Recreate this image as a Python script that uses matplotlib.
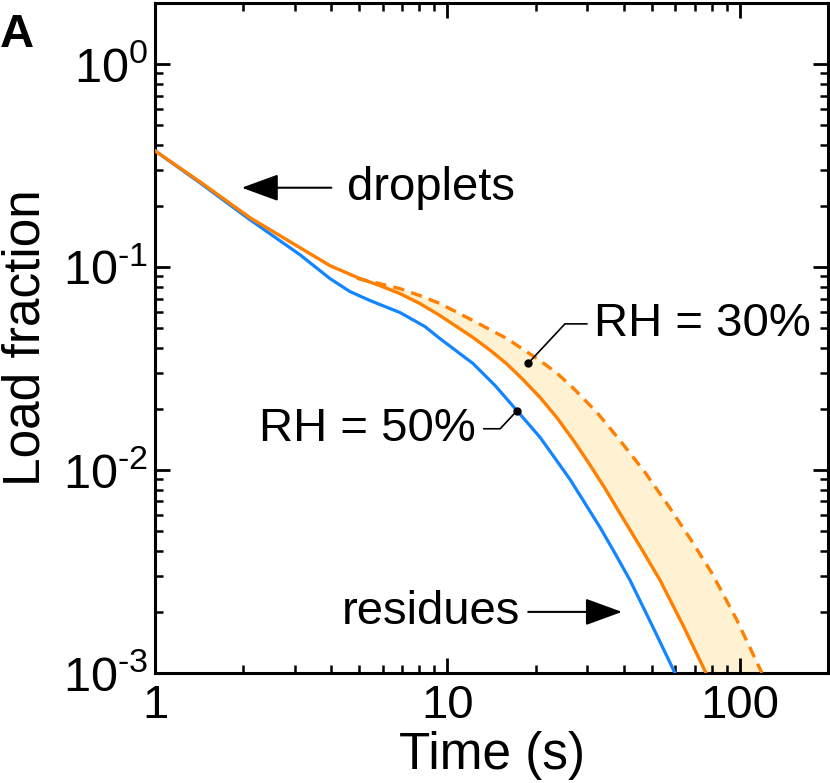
import numpy as np
import matplotlib.pyplot as plt
from matplotlib.ticker import LogLocator, FuncFormatter, NullFormatter

plt.rcParams['font.family'] = ['Liberation Sans', 'DejaVu Sans']
plt.rcParams['mathtext.fontset'] = 'custom'
plt.rcParams['mathtext.rm'] = 'Liberation Sans'

# Data
t_rh50 = [1, 1.425, 2.113, 3.131, 3.967, 4.642, 5.433, 6.88, 8.377, 9.427, 12.22, 14.54,
          17.29, 20.72, 23.32, 26.23, 29.52, 33.21, 37.38, 42.06, 50.03, 59.95]
load_rh50 = [0.374, 0.260, 0.171, 0.115, 0.0877, 0.0757, 0.0684, 0.0597, 0.0509, 0.0444,
             0.0335, 0.0261, 0.0196, 0.0145, 0.01142, 0.0090, 0.00686, 0.00523, 0.00389,
             0.00287, 0.00172, 0.001]

t_rh30 = [1, 1.425, 2.113, 3.131, 3.967, 5.023, 5.875, 6.88, 8.054, 9.427, 12.22, 13.97,
          15.97, 18.12, 20.72, 23.68, 26.86, 29.99, 34.55, 38.88, 45.51, 53.28, 63.85, 76.53]
load_rh30 = [0.374, 0.263, 0.175, 0.1246, 0.1016, 0.0877, 0.0810, 0.0740, 0.0661, 0.0577,
             0.0450, 0.0390, 0.0333, 0.0279, 0.0228, 0.01810, 0.0141, 0.01116, 0.00813,
             0.00612, 0.00421, 0.00287, 0.00172, 0.001]

# upper bound of RH = 30% band (dashed)
t_rh30_upper = [4.906, 5.875, 6.88, 8.054, 9.427, 12.22, 15.97, 20.72, 23.68, 26.86, 32.44,
                38.88, 47.34, 56.75, 67.47, 80.23, 97.66, 118.9]
load_rh30_upper = [0.088, 0.0828, 0.0783, 0.0723, 0.0661, 0.0545, 0.0444, 0.0346, 0.0300,
                   0.0254, 0.01922, 0.0140, 0.00974, 0.00671, 0.00461, 0.00310, 0.00182, 0.001]

rh30_label_point = (18.85, 0.0335)
droplets_tip = (1.98, 0.246)
residues_tip = (39.5, 0.002)

blue = '#1285FF'
orange = '#FF7F00'
band = '#FFF2D3'

fig = plt.figure(figsize=(8.3, 7.83), dpi=100)
ax = fig.add_axes([155 / 830, 110 / 783, 673 / 830, 670 / 783])

# shaded band between solid and dashed RH = 30% curves
band_t = t_rh30_upper + [t for t in t_rh30[::-1] if t > t_rh30_upper[0]]
band_y = load_rh30_upper + [y for t, y in zip(t_rh30[::-1], load_rh30[::-1]) if t > t_rh30_upper[0]]
ax.fill(band_t, band_y, color=band, lw=0, zorder=1)

ax.plot(t_rh50, load_rh50, color=blue, lw=2.3, zorder=3)
ax.plot(t_rh30, load_rh30, color=orange, lw=2.4, zorder=3)
ax.plot(t_rh30_upper, load_rh30_upper, color=orange, lw=2.4, dashes=(3.4, 2.2), zorder=3)

ax.set_xscale('log')
ax.set_yscale('log')
ax.set_xlim(1, 200)
ax.set_ylim(1e-3, 2)

ax.xaxis.set_major_locator(LogLocator(base=10, numticks=10))
ax.xaxis.set_minor_locator(LogLocator(base=10, subs=np.arange(2, 10), numticks=20))
ax.yaxis.set_major_locator(LogLocator(base=10, numticks=10))
ax.yaxis.set_minor_locator(LogLocator(base=10, subs=np.arange(2, 10), numticks=20))
ax.xaxis.set_major_formatter(FuncFormatter(lambda v, _: '%g' % v))
ax.yaxis.set_major_formatter(FuncFormatter(
    lambda v, _: r'$\mathregular{10^{\text{%d}}}$' % int(round(np.log10(v)))))
ax.xaxis.set_minor_formatter(NullFormatter())
ax.yaxis.set_minor_formatter(NullFormatter())

ax.tick_params(which='both', direction='in', top=True, right=True)
ax.tick_params(which='major', length=11, width=2, labelsize=34)
ax.tick_params(axis='y', which='major', labelsize=35)
ax.tick_params(which='minor', length=6, width=1.8)
ax.tick_params(axis='x', which='major', pad=8)
ax.tick_params(axis='y', which='major', pad=5)
for s in ax.spines.values():
    s.set_linewidth(2.2)

ax.set_xlabel('Time (s)', fontsize=37, labelpad=2)
ax.set_ylabel('Load fraction', fontsize=37)
ax.yaxis.set_label_coords(-0.155, 0.5)

# labels with leader lines
ax.plot(t_rh50[12], load_rh50[12], 'o', color='black', ms=5, zorder=5)
ax.annotate('RH = 50%', xy=(t_rh50[12], load_rh50[12]), xytext=(-30, -13),
            textcoords='offset points', ha='right', va='center', fontsize=34,
            arrowprops=dict(arrowstyle='-', lw=1.2, color='black', relpos=(1, 0.5),
                            connectionstyle='angle,angleA=0,angleB=47,rad=0',
                            shrinkA=4, shrinkB=0))
ax.plot(*rh30_label_point, 'o', color='black', ms=5, zorder=5)
ax.annotate('RH = 30%', xy=rh30_label_point, xytext=(47.5, 28.5),
            textcoords='offset points', ha='left', va='center', fontsize=34,
            arrowprops=dict(arrowstyle='-', lw=1.2, color='black', relpos=(0, 0.5),
                            connectionstyle='angle,angleA=0,angleB=47,rad=0',
                            shrinkA=3, shrinkB=0))

arrow = dict(arrowstyle='-|>,head_length=2.3,head_width=0.84', mutation_scale=10,
             lw=1.5, color='black', shrinkB=0)
ax.annotate('droplets', xy=droplets_tip, xytext=(75.5, 0), textcoords='offset points',
            ha='left', va='center', fontsize=34, arrowprops=dict(arrow, shrinkA=9))
ax.annotate('residues', xy=residues_tip, xytext=(-73.5, 0), textcoords='offset points',
            ha='right', va='center', fontsize=34, arrowprops=dict(arrow, shrinkA=4))

fig.text(0, 1 - 47 / 783, 'A', fontsize=34, fontweight='bold', va='baseline')

fig.savefig('out.png', dpi=100)
